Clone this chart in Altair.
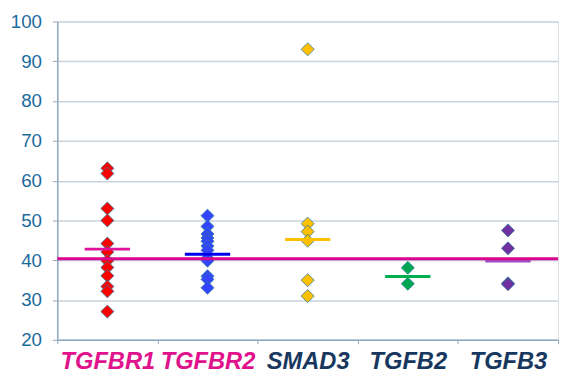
import altair as alt
import pandas as pd

genes = ["TGFBR1", "TGFBR2", "SMAD3", "TGFB2", "TGFB3"]
tgfbr1 = [63.1, 61.8, 53.0, 50.0, 44.2, 42.1, 39.9, 38.2, 36.1, 33.4, 32.2, 27.1]
tgfbr2 = [51.2, 48.5, 46.6, 45.6, 44.8, 43.6, 42.5, 40.5, 39.9, 36.0, 35.2, 33.1]
smad3 = [93.0, 49.2, 47.2, 44.9, 35.0, 31.0]
tgfb2 = [38.1, 34.1]
tgfb3 = [47.5, 43.0, 34.2, 34.0]
means = [42.8, 41.5, 45.2, 35.9, 39.8]
reference_value = 40.4

point_colors = ["#FF0000", "#3344FF", "#FFC000", "#00A651", "#7030A0"]
mean_colors = ["#E0119B", "#0000EE", "#FFC000", "#00B050", "#9B4FC0"]
label_colors = ["#E0128C", "#E0128C", "#17375E", "#17375E", "#17375E"]

series = [tgfbr1, tgfbr2, smad3, tgfb2, tgfb3]
rows = []
for g, vals in zip(genes, series):
    for v in vals:
        rows.append({"gene": g, "value": v})
points_df = pd.DataFrame(rows)
means_df = pd.DataFrame({"gene": genes, "mean": means})
ref_df = pd.DataFrame({"ref": [reference_value]})

label_expr = " : ".join(
    f"datum.value == '{g}' ? '{c}'" for g, c in zip(genes, label_colors)
) + " : '#17375E'"

x_enc = alt.X(
    "gene:N",
    sort=genes,
    scale=alt.Scale(domain=genes, paddingInner=0, paddingOuter=0),
    axis=alt.Axis(
        title=None,
        labelAngle=0,
        labelFont="Liberation Sans",
        labelFontSize=24,
        labelFontWeight="bold",
        labelFontStyle="italic",
        labelColor=alt.ExprRef(label_expr),
        labelPadding=6,
        tickBand="extent",
        tickSize=4,
        tickColor="#8EA9C1",
        domainColor="#8EA9C1",
        domainWidth=1.5,
        grid=False,
    ),
)

y_scale = alt.Scale(domain=[20, 100], nice=False, zero=False)
y_axis = alt.Axis(
    title=None,
    values=list(range(20, 101, 10)),
    labelFont="Liberation Sans",
    labelFontSize=19,
    labelColor="#1B6A9C",
    labelPadding=11,
    tickSize=5,
    tickColor="#8EA9C1",
    domainColor="#8EA9C1",
    domainWidth=1.5,
    gridColor="#C8D3DE",
    gridWidth=1.5,
)

points = alt.Chart(points_df).mark_point(
    shape="diamond", filled=True, size=175, opacity=1,
    stroke="#2E7C9E", strokeWidth=0.8,
).encode(
    x=x_enc,
    y=alt.Y("value:Q", scale=y_scale, axis=y_axis),
    color=alt.Color("gene:N", scale=alt.Scale(domain=genes, range=point_colors), legend=None),
)

mean_ticks = alt.Chart(means_df).mark_tick(
    size=46, thickness=3, opacity=1, orient="horizontal"
).encode(
    x=alt.X("gene:N", sort=genes),
    y=alt.Y("mean:Q"),
    color=alt.Color("gene:N", scale=alt.Scale(domain=genes, range=mean_colors), legend=None),
)

ref_line = alt.Chart(ref_df).mark_rule(color="#D9068F", strokeWidth=3).encode(
    y=alt.Y("ref:Q")
)

chart = alt.layer(points, mean_ticks, ref_line).resolve_scale(color="independent").properties(
    width=508,
    height=323,
    autosize=alt.AutoSizeParams(type="none"),
    padding={"left": 50, "top": 11, "right": 3, "bottom": 34},
).configure_view(stroke=None).configure(background="white")

chart.save("out.html", embed_options={"renderer": "svg", "actions": False})
